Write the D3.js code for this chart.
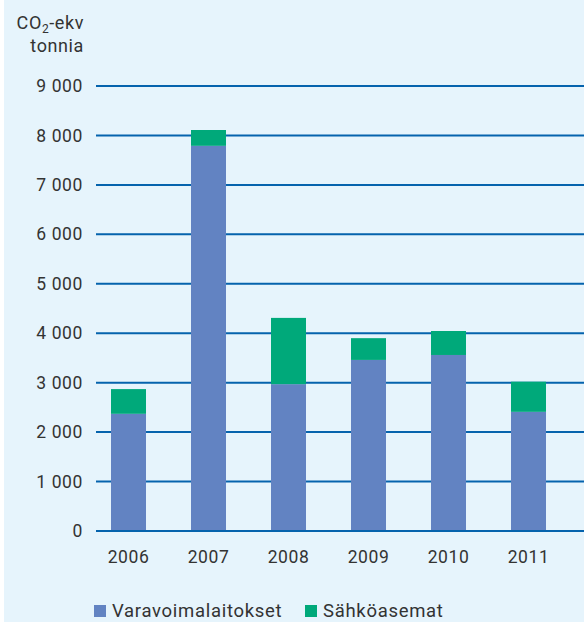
<!DOCTYPE html>
<html>
<head>
<meta charset="utf-8">
<script src="https://cdn.jsdelivr.net/npm/d3@7/dist/d3.min.js"></script>
<style>
  html, body { margin: 0; padding: 0; background: #ffffff; }
  svg { display: block; }
  text { font-family: Roboto, "Noto Sans", sans-serif; fill: #333333; }
</style>
</head>
<body>
<svg id="chart" width="584" height="622"></svg>
<script>
const years = ["2006", "2007", "2008", "2009", "2010", "2011"];
const varavoimalaitokset = [2370, 7790, 2970, 3460, 3560, 2410];
const sahkoasemat = [500, 320, 1340, 440, 485, 610];
const yTicks = [0, 1000, 2000, 3000, 4000, 5000, 6000, 7000, 8000, 9000];
const seriesNames = ["Varavoimalaitokset", "Sähköasemat"];
const seriesColors = ["#6283c2", "#00a97a"];

const svg = d3.select("#chart");
const W = 584, H = 622;

svg.append("rect").attr("x", 4).attr("y", 0).attr("width", W - 4).attr("height", H).attr("fill", "#e6f4fc");

const y = d3.scaleLinear().domain([0, 9000]).range([531, 86]);
const x = d3.scaleBand().domain(years).range([88.5, 568.5]).paddingInner(0.5625).paddingOuter(0.28125);

const fmt2 = v => { const s = String(v); return s.length > 3 ? s.slice(0, s.length - 3) + " " + s.slice(-3) : s; };

// grid lines
svg.append("g").selectAll("line").data(yTicks).join("line")
  .attr("x1", 96).attr("x2", W)
  .attr("y1", d => y(d)).attr("y2", d => y(d))
  .attr("stroke", "#0563ad").attr("stroke-width", 2);

// y tick labels
svg.append("g").selectAll("text").data(yTicks).join("text")
  .attr("x", 83).attr("y", d => y(d))
  .attr("dy", "0.35em")
  .attr("text-anchor", "end")
  .attr("font-size", 17.5)
  .attr("letter-spacing", 0.6)
  .text(d => fmt2(d));

// stacked bars
const stackData = years.map((yr, i) => ({ year: yr, a: varavoimalaitokset[i], b: sahkoasemat[i] }));
const stack = d3.stack().keys(["a", "b"])(stackData);
svg.append("g").selectAll("g").data(stack).join("g")
  .attr("fill", (d, i) => seriesColors[i])
  .selectAll("rect").data(d => d).join("rect")
  .attr("x", d => x(d.data.year))
  .attr("width", x.bandwidth())
  .attr("y", d => y(d[1]))
  .attr("height", d => y(d[0]) - y(d[1]));

// redraw zero line on top
svg.append("line").attr("x1", 96).attr("x2", W).attr("y1", y(0)).attr("y2", y(0))
  .attr("stroke", "#0563ad").attr("stroke-width", 2);

// x labels
svg.append("g").selectAll("text").data(years).join("text")
  .attr("x", d => x(d) + x.bandwidth() / 2)
  .attr("y", 563)
  .attr("text-anchor", "middle")
  .attr("font-size", 17.5)
  .attr("letter-spacing", 0.6)
  .text(d => d);

// y axis title
const t1 = svg.append("text").attr("x", 84).attr("y", 29).attr("text-anchor", "end")
  .attr("font-size", 18).attr("letter-spacing", 0.6);
t1.append("tspan").text("CO");
t1.append("tspan").attr("font-size", 12).attr("dy", 4).text("2");
t1.append("tspan").attr("dy", -4).text("-ekv");
svg.append("text").attr("x", 84).attr("y", 52).attr("text-anchor", "end")
  .attr("font-size", 18).attr("letter-spacing", 0.6).text("tonnia");

// legend
const legendX = [94, 305];
const lg = svg.append("g").selectAll("g").data(seriesNames).join("g")
  .attr("transform", (d, i) => `translate(${legendX[i]},0)`);
lg.append("rect").attr("x", 0).attr("y", 605).attr("width", 12).attr("height", 12)
  .attr("fill", (d, i) => seriesColors[i]);
lg.append("text").attr("x", 18).attr("y", 617).attr("font-size", 18.5)
  .attr("letter-spacing", 0.7).text(d => d);
</script>
</body>
</html>
